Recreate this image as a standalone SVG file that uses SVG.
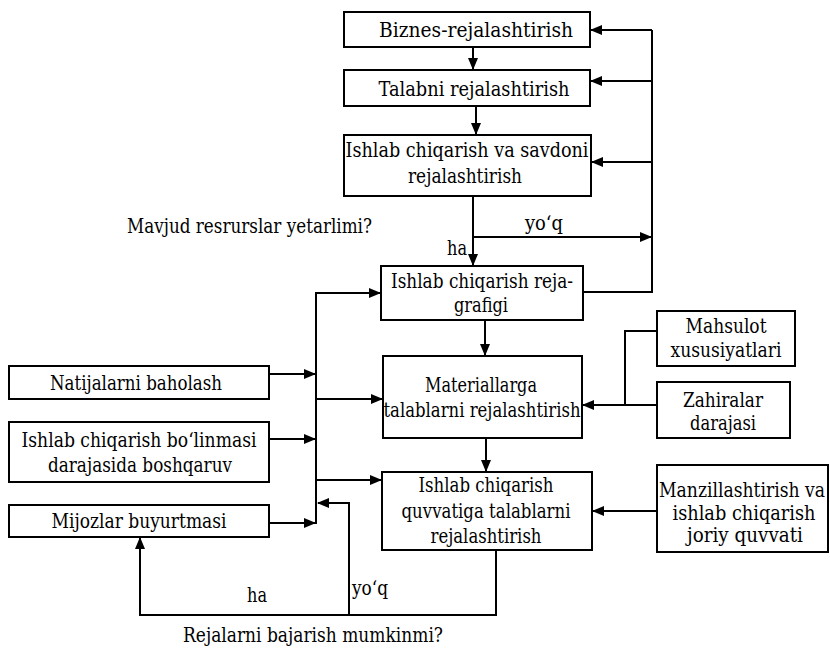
<svg xmlns="http://www.w3.org/2000/svg" width="830" height="655" viewBox="0 0 830 655">
<style>
.box{fill:#fff;stroke:#000;stroke-width:2}
.t{font-family:"DejaVu Serif";font-size:19.5px;fill:#000;text-anchor:middle}
.l{font-family:"DejaVu Serif";font-size:19.5px;fill:#000}
.c{fill:none;stroke:#000;stroke-width:2}
</style>
<defs>
<marker id="ah" markerUnits="userSpaceOnUse" markerWidth="12" markerHeight="10" refX="11" refY="5" orient="auto">
<path d="M0,0 L12,5 L0,10 Z" fill="#000"/>
</marker>
</defs>
<rect width="830" height="655" fill="#fff"/>
<g id="connectors">
<path class="c" d="M473,47 V69" marker-end="url(#ah)"/>
<path class="c" d="M476,106 V134" marker-end="url(#ah)"/>
<path class="c" d="M473,196 V265" marker-end="url(#ah)"/>
<path class="c" d="M473,237 H651" marker-end="url(#ah)"/>
<path class="c" d="M583,292 H652 V30"/>
<path class="c" d="M652,30 H591" marker-end="url(#ah)"/>
<path class="c" d="M652,81 H591" marker-end="url(#ah)"/>
<path class="c" d="M652,162 H592" marker-end="url(#ah)"/>
<path class="c" d="M485,320 V355" marker-end="url(#ah)"/>
<path class="c" d="M486,438 V471" marker-end="url(#ah)"/>
<path class="c" d="M657,405 H583" marker-end="url(#ah)"/>
<path class="c" d="M657,331 H625 V405"/>
<path class="c" d="M657,511 H593" marker-end="url(#ah)"/>
<path class="c" d="M269,374 H315" marker-end="url(#ah)"/>
<path class="c" d="M269,439 H315" marker-end="url(#ah)"/>
<path class="c" d="M269,523 H315" marker-end="url(#ah)"/>
<path class="c" d="M316,292 V524"/>
<path class="c" d="M316,293 H380" marker-end="url(#ah)"/>
<path class="c" d="M316,399 H382" marker-end="url(#ah)"/>
<path class="c" d="M316,480 H381" marker-end="url(#ah)"/>
<path class="c" d="M496,550 V615 H140 V538" marker-end="url(#ah)"/>
<path class="c" d="M349,615 V503 H318" marker-end="url(#ah)"/>
</g>
<g id="labels">
<text class="l" x="127" y="233" textLength="245" lengthAdjust="spacingAndGlyphs">Mavjud resrurslar yetarlimi?</text>
<text class="l" x="525" y="230" textLength="38" lengthAdjust="spacingAndGlyphs">yo‘q</text>
<text class="l" x="447" y="255" textLength="20" lengthAdjust="spacingAndGlyphs">ha</text>
<text class="l" x="352" y="595" textLength="36" lengthAdjust="spacingAndGlyphs">yo‘q</text>
<text class="l" x="247" y="602" textLength="20" lengthAdjust="spacingAndGlyphs">ha</text>
<text class="l" x="183" y="642" textLength="260" lengthAdjust="spacingAndGlyphs">Rejalarni bajarish mumkinmi?</text>
</g>
<g id="biznes">
<rect class="box" x="344" y="12" width="246" height="35"/>
<text class="t" x="476" y="37" textLength="194" lengthAdjust="spacingAndGlyphs">Biznes-rejalashtirish</text>
</g>
<g id="talab">
<rect class="box" x="344" y="70" width="246" height="36"/>
<text class="t" x="474" y="96" textLength="191" lengthAdjust="spacingAndGlyphs">Talabni rejalashtirish</text>
</g>
<g id="savdo">
<rect class="box" x="344" y="135" width="247" height="61"/>
<text class="t" x="467" y="157" textLength="243" lengthAdjust="spacingAndGlyphs">Ishlab chiqarish va savdoni</text>
<text class="t" x="465" y="183" textLength="114" lengthAdjust="spacingAndGlyphs">rejalashtirish</text>
</g>
<g id="grafik">
<rect class="box" x="381" y="266" width="202" height="54"/>
<text class="t" x="482" y="288" textLength="182" lengthAdjust="spacingAndGlyphs">Ishlab chiqarish reja-</text>
<text class="t" x="481" y="312" textLength="54" lengthAdjust="spacingAndGlyphs">grafigi</text>
</g>
<g id="material">
<rect class="box" x="383" y="356" width="199" height="82"/>
<text class="t" x="481" y="392" textLength="112" lengthAdjust="spacingAndGlyphs">Materiallarga</text>
<text class="t" x="482" y="417" textLength="197" lengthAdjust="spacingAndGlyphs">talablarni rejalashtirish</text>
</g>
<g id="quvvat">
<rect class="box" x="382" y="472" width="210" height="78"/>
<text class="t" x="486" y="492" textLength="135" lengthAdjust="spacingAndGlyphs">Ishlab chiqarish</text>
<text class="t" x="486" y="518" textLength="169" lengthAdjust="spacingAndGlyphs">quvvatiga talablarni</text>
<text class="t" x="486" y="543" textLength="111" lengthAdjust="spacingAndGlyphs">rejalashtirish</text>
</g>
<g id="mahsulot">
<rect class="box" x="657" y="311" width="138" height="55"/>
<text class="t" x="726" y="333" textLength="81" lengthAdjust="spacingAndGlyphs">Mahsulot</text>
<text class="t" x="726" y="357" textLength="111" lengthAdjust="spacingAndGlyphs">xususiyatlari</text>
</g>
<g id="zahira">
<rect class="box" x="657" y="382" width="133" height="56"/>
<text class="t" x="723" y="407" textLength="80" lengthAdjust="spacingAndGlyphs">Zahiralar</text>
<text class="t" x="723" y="430" textLength="66" lengthAdjust="spacingAndGlyphs">darajasi</text>
</g>
<g id="manzil">
<rect class="box" x="657" y="465" width="171" height="87"/>
<text class="t" x="742" y="497" textLength="166" lengthAdjust="spacingAndGlyphs">Manzillashtirish va</text>
<text class="t" x="744" y="520" textLength="143" lengthAdjust="spacingAndGlyphs">ishlab chiqarish</text>
<text class="t" x="745" y="542" textLength="116" lengthAdjust="spacingAndGlyphs">joriy quvvati</text>
</g>
<g id="natija">
<rect class="box" x="9" y="366" width="260" height="33"/>
<text class="t" x="136" y="390" textLength="172" lengthAdjust="spacingAndGlyphs">Natijalarni baholash</text>
</g>
<g id="boshqaruv">
<rect class="box" x="9" y="422" width="260" height="60"/>
<text class="t" x="139" y="447" textLength="235" lengthAdjust="spacingAndGlyphs">Ishlab chiqarish bo‘linmasi</text>
<text class="t" x="140" y="472" textLength="184" lengthAdjust="spacingAndGlyphs">darajasida boshqaruv</text>
</g>
<g id="mijoz">
<rect class="box" x="9" y="505" width="260" height="32"/>
<text class="t" x="139" y="528" textLength="175" lengthAdjust="spacingAndGlyphs">Mijozlar buyurtmasi</text>
</g>
</svg>
